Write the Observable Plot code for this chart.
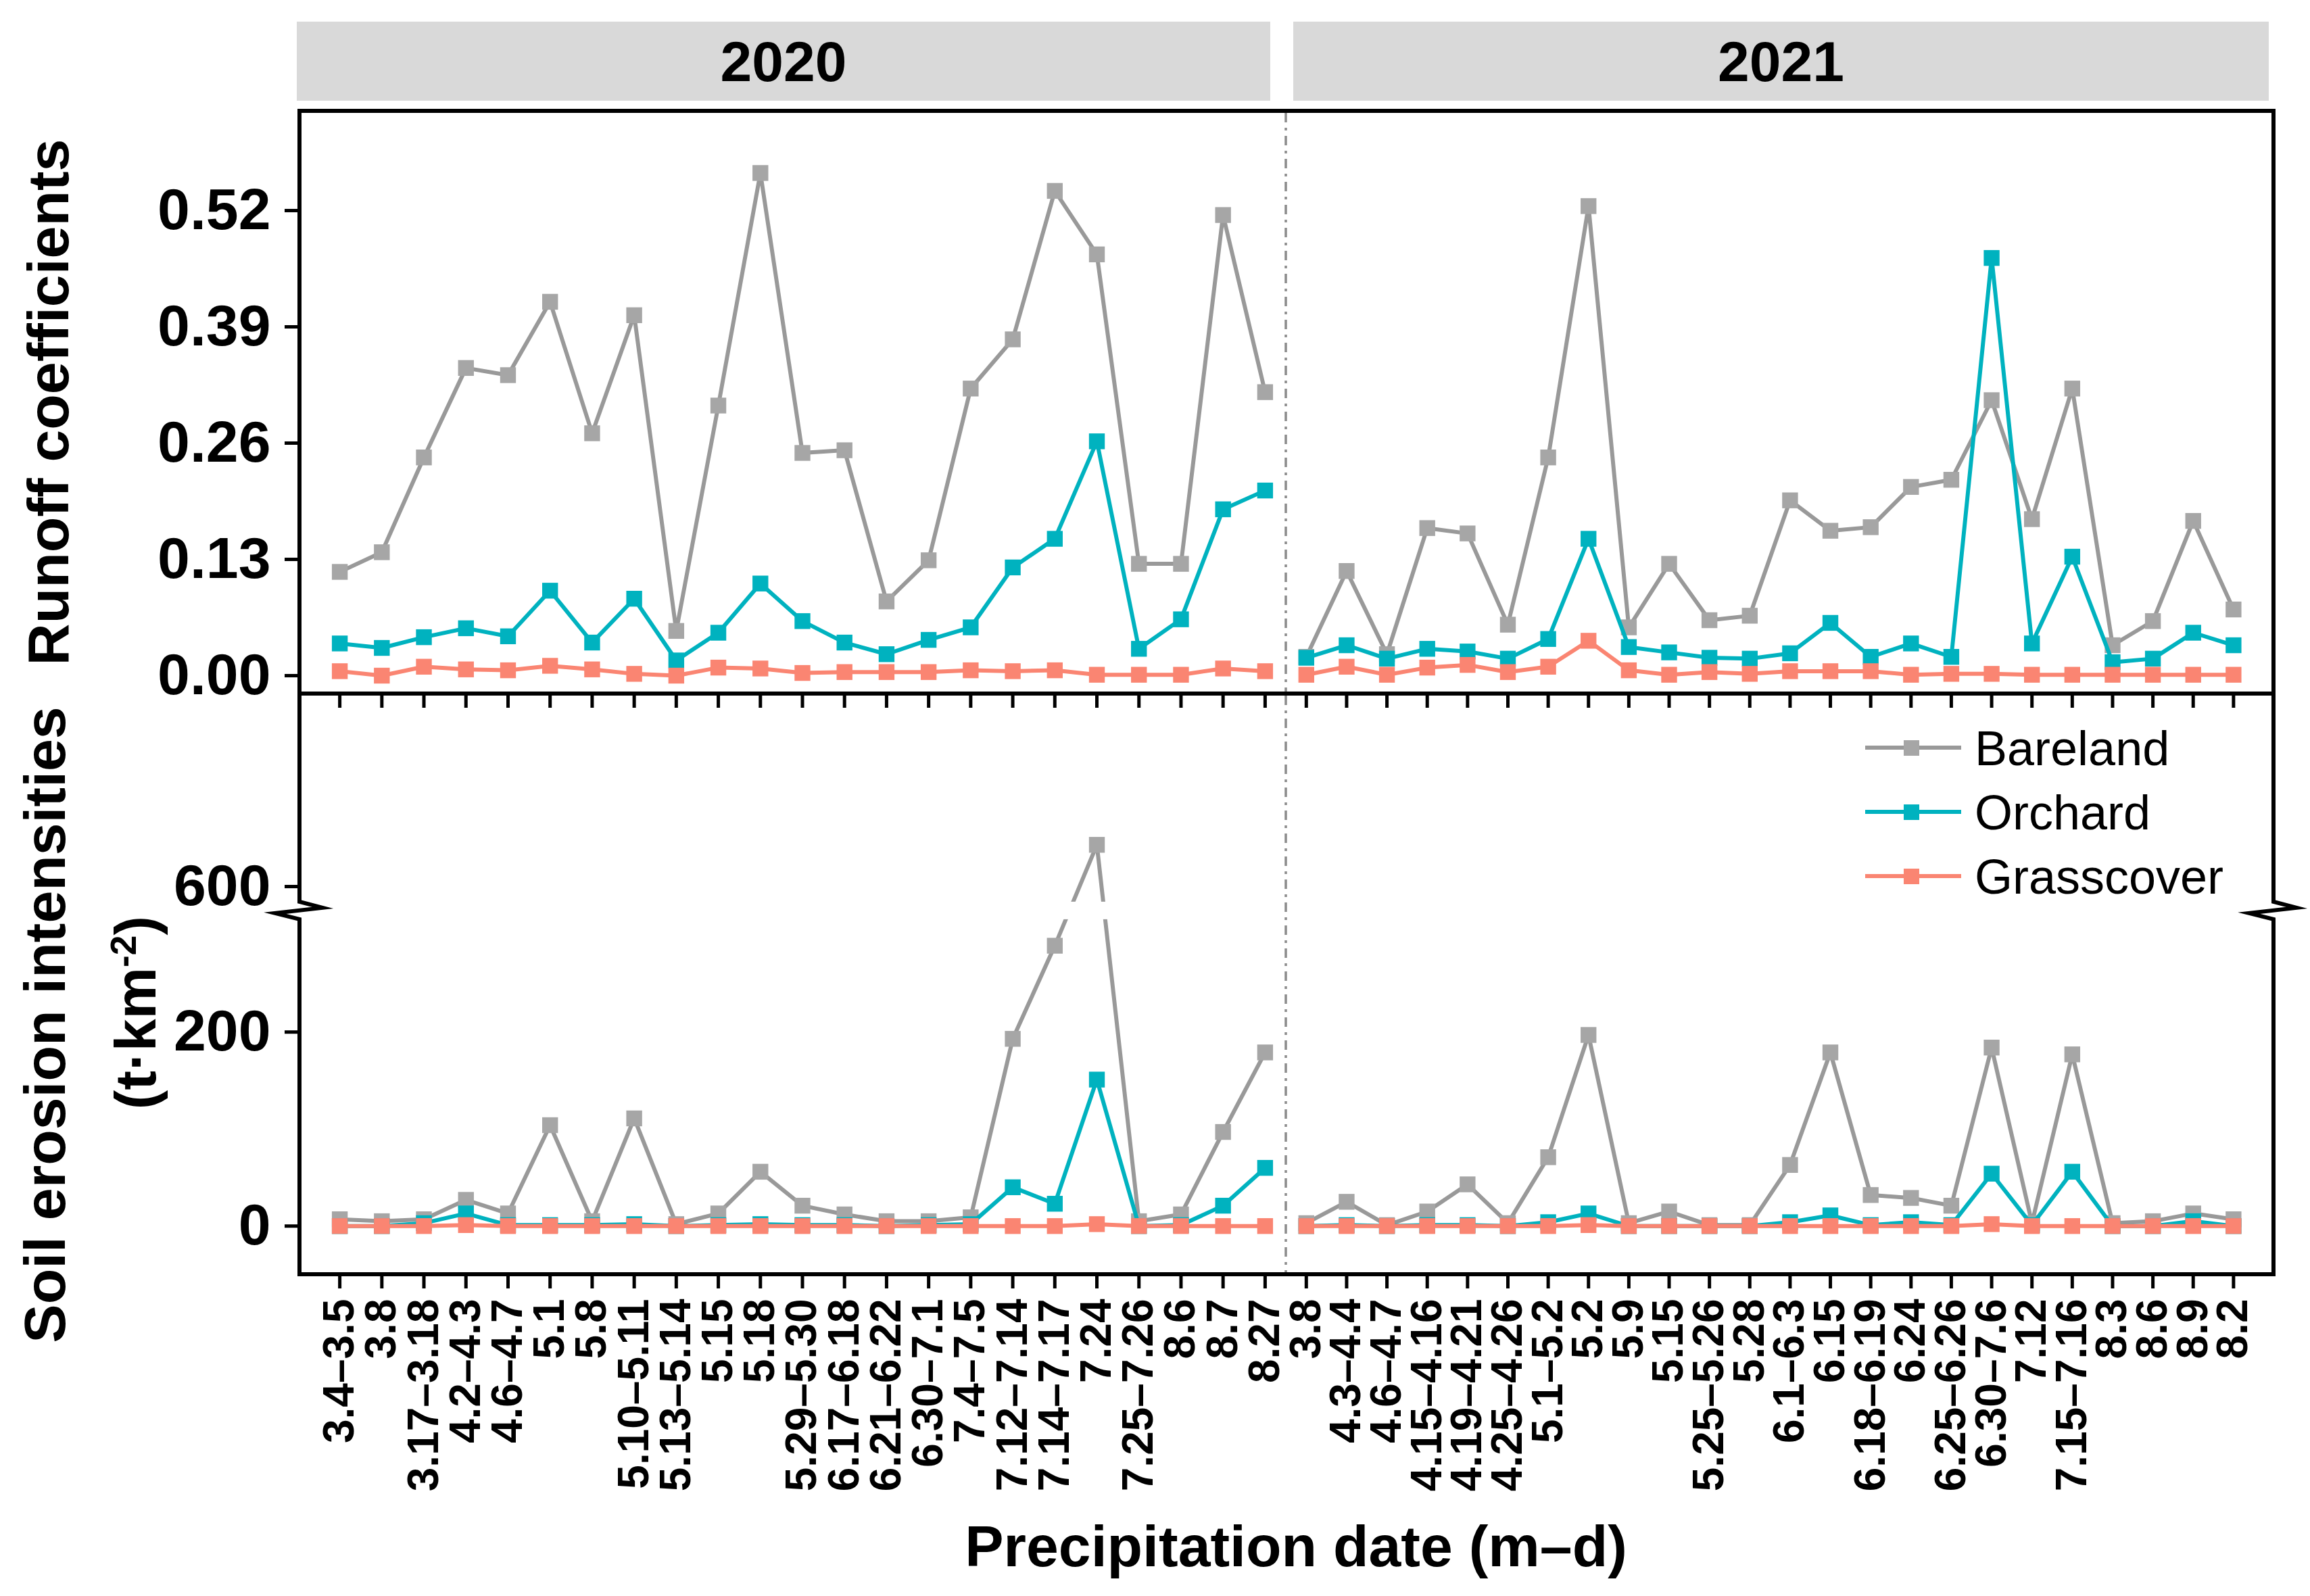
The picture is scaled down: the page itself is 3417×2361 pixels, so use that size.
<!DOCTYPE html>
<html>
<head>
<meta charset="utf-8">
<script src="https://cdn.jsdelivr.net/npm/d3@7"></script>
<script src="https://cdn.jsdelivr.net/npm/@observablehq/plot@0.6"></script>
<style>
html, body { margin: 0; padding: 0; background: #fff; }
#fig { position: relative; width: 3417px; height: 2361px; overflow: hidden; background: #fff;
       font-family: 'Liberation Sans', Arial, Helvetica, sans-serif; color: #000; }
.layer { position: absolute; left: 0; top: 0; }
.strip { position: absolute; background: #d9d9d9; display: flex; align-items: center; justify-content: center;
         font-weight: bold; font-size: 84px; line-height: 1; }
.vt { position: absolute; white-space: nowrap; font-weight: bold; font-size: 86px; line-height: 1;
      transform: translate(-50%, -50%) rotate(-90deg); }
.vt sup { font-size: 62%; vertical-align: 0.55em; line-height: 0; }
.xt { position: absolute; white-space: nowrap; font-weight: bold; font-size: 86px; line-height: 1; transform: translateX(-50%); }
.lg { position: absolute; white-space: nowrap; font-size: 72px; line-height: 1; }
</style>
</head>
<body>
<div id="fig"></div>
<script>
// ---------------- data ----------------
const years = ["2020", "2021"];
const seriesNames = ["Bareland", "Orchard", "Grasscover"];

const dates2020 = ["3.4–3.5","3.8","3.17–3.18","4.2–4.3","4.6–4.7","5.1","5.8","5.10–5.11","5.13–5.14","5.15","5.18","5.29–5.30","6.17–6.18","6.21–6.22","6.30–7.1","7.4–7.5","7.12–7.14","7.14–7.17","7.24","7.25–7.26","8.6","8.7","8.27"];
const dates2021 = ["3.8","4.3–4.4","4.6–4.7","4.15–4.16","4.19–4.21","4.25–4.26","5.1–5.2","5.2","5.9","5.15","5.25–5.26","5.28","6.1–6.3","6.15","6.18–6.19","6.24","6.25–6.26","6.30–7.6","7.12","7.15–7.16","8.3","8.6","8.9","8.2"];

// Runoff coefficients
const runoffBare2020  = [0.116,0.138,0.244,0.344,0.336,0.418,0.271,0.403,0.050,0.302,0.562,0.249,0.252,0.083,0.129,0.321,0.376,0.542,0.471,0.125,0.125,0.515,0.317];
const runoffOrch2020  = [0.036,0.031,0.043,0.053,0.044,0.095,0.037,0.086,0.017,0.048,0.103,0.061,0.037,0.024,0.040,0.054,0.121,0.153,0.262,0.030,0.063,0.186,0.207];
const runoffGrass2020 = [0.005,0.000,0.010,0.007,0.006,0.011,0.007,0.002,0.000,0.009,0.008,0.003,0.004,0.004,0.004,0.006,0.005,0.006,0.001,0.001,0.001,0.008,0.005];
const runoffBare2021  = [0.021,0.117,0.024,0.165,0.159,0.057,0.244,0.525,0.054,0.125,0.062,0.067,0.196,0.162,0.166,0.211,0.219,0.308,0.175,0.321,0.034,0.061,0.173,0.074];
const runoffOrch2021  = [0.020,0.034,0.019,0.030,0.027,0.019,0.041,0.153,0.032,0.026,0.020,0.019,0.025,0.059,0.021,0.036,0.021,0.467,0.036,0.133,0.015,0.019,0.048,0.034];
const runoffGrass2021 = [0.001,0.010,0.001,0.009,0.012,0.004,0.010,0.039,0.006,0.001,0.004,0.002,0.005,0.005,0.005,0.001,0.002,0.002,0.001,0.001,0.001,0.001,0.001,0.001];

// Soil erosion intensities (t·km-2)
const erosionBare2020  = [7,5,7,27,13,104,5,111,2,13,56,21,12,5,5,9,193,289,643,5,12,97,179];
const erosionOrch2020  = [0,0,3,13,1,1,1,2,0,1,2,1,1,0,1,2,40,23,151,0,1,21,60];
const erosionGrass2020 = [0,0,0,1,0,0,0,0,0,0,0,0,0,0,0,0,0,0,2,0,0,0,0];
const erosionBare2021  = [3,25,1,15,43,3,71,197,3,15,1,1,63,179,32,29,21,184,3,177,3,5,13,7];
const erosionOrch2021  = [0,1,0,1,1,0,4,13,0,0,0,0,4,11,1,4,1,54,1,56,0,0,5,0];
const erosionGrass2021 = [0,0,0,0,0,0,0,1,0,0,0,0,0,0,0,0,0,2,0,0,0,0,0,0];

const runoffTicks = [0, 0.13, 0.26, 0.39, 0.52];
const erosionTicks = [0, 200, 600];
// y-axis break of the erosion panel
const breakLow = 325, breakHigh = 575;

// ---------------- styling ----------------
const lineColors = ["#999999", "#00B2BF", "#FA8572"];
const markerColors = ["#A6A6A6", "#00B2BF", "#FA8572"];
const lineWidth = 6;
const markerR = 13.2;

const W = 3417, H = 2361;
const colEdges = [[443, 1902], [1902, 3363]];
const rowEdges = {runoff: [164, 1026], erosion: [1026, 1885]};
const xDomains = [[-0.95, 22.5], [-0.5, 24.0]];
const yDomains = {runoff: [-0.0204, 0.6311], erosion: [-50, 548.6]};

const labelsByYear = [dates2020, dates2021];
const dataByYear = [
  {runoff: [runoffBare2020, runoffOrch2020, runoffGrass2020], erosion: [erosionBare2020, erosionOrch2020, erosionGrass2020]},
  {runoff: [runoffBare2021, runoffOrch2021, runoffGrass2021], erosion: [erosionBare2021, erosionOrch2021, erosionGrass2021]}
];

const gap = breakHigh - breakLow;
const brk = v => (v > breakLow ? v - gap : v);
const erosionTickMap = new Map(erosionTicks.map(v => [brk(v), v]));

function frameMark(isLeft, isBottom) {
  return (index, scales, values, dims) => {
    const {width, height, marginTop, marginRight, marginBottom, marginLeft} = dims;
    const x0 = marginLeft, x1 = width - marginRight, y0 = marginTop, y1 = height - marginBottom;
    const bw = 6;
    const g = d3.create("svg:g").attr("fill", "none");
    let yb = null;
    if (isBottom) {
      yb = scales.y(breakLow);
      g.append("rect").attr("x", x0 + bw / 2).attr("width", x1 - x0 - bw)
        .attr("y", yb - 13).attr("height", 26).attr("fill", "white");
    }
    const hx0 = isLeft ? x0 - bw / 2 : x0, hx1 = isLeft ? x1 : x1 + bw / 2;
    for (const yy of [y0, y1]) {
      g.append("line").attr("x1", hx0).attr("x2", hx1).attr("y1", yy).attr("y2", yy)
        .attr("stroke", "black").attr("stroke-width", bw);
    }
    const sx = isLeft ? x0 : x1;
    if (isBottom) {
      g.append("path")
        .attr("d", `M${sx},${y0}V${yb - 13}L${sx + 34},${yb - 4}L${sx - 36},${yb + 4}L${sx},${yb + 13}V${y1}`)
        .attr("stroke", "black").attr("stroke-width", bw).attr("stroke-linejoin", "miter").attr("stroke-miterlimit", 10);
    } else {
      g.append("line").attr("x1", sx).attr("x2", sx).attr("y1", y0 - bw / 2).attr("y2", y1)
        .attr("stroke", "black").attr("stroke-width", bw);
    }
    if (isLeft) {
      g.append("line").attr("x1", x1).attr("x2", x1).attr("y1", y0 + bw / 2).attr("y2", y1 - bw / 2)
        .attr("stroke", "#8c8c8c").attr("stroke-width", 3.5).attr("stroke-dasharray", "14,8,4,8");
    }
    return g.node();
  };
}

function makePanel(yi, metric) {
  const isLeft = yi === 0, isBottom = metric === "erosion";
  const labels = labelsByYear[yi];
  const f = isBottom ? brk : (v => v);
  const [left, right] = colEdges[yi];
  const [top, bottom] = rowEdges[metric];
  const marks = [];
  dataByYear[yi][metric].forEach((arr, s) => {
    const rows = arr.map((v, i) => ({i, v}));
    marks.push(Plot.line(rows, {x: "i", y: d => f(d.v), stroke: lineColors[s], strokeWidth: lineWidth}));
    marks.push(Plot.dot(rows, {x: "i", y: d => f(d.v), symbol: "square", r: markerR, fill: markerColors[s], stroke: "none"}));
  });
  marks.push(frameMark(isLeft, isBottom));
  const idx = labels.map((_, i) => i);
  marks.push(Plot.axisX({
    ticks: idx, tickFormat: isBottom ? (i => labels[i]) : (() => ""),
    tickSize: 21, tickPadding: 15, tickRotate: -90, textAnchor: "end",
    fontSize: 64, strokeWidth: 5, label: null, color: "black"
  }));
  if (isLeft) {
    marks.push(Plot.axisY(isBottom ? {
      ticks: erosionTicks.map(brk), tickFormat: t => String(erosionTickMap.get(t)),
      tickSize: 22, tickPadding: 21, fontSize: 86, strokeWidth: 5, label: null, color: "black"
    } : {
      ticks: runoffTicks, tickFormat: d3.format(".2f"),
      tickSize: 22, tickPadding: 21, fontSize: 86, strokeWidth: 5, label: null, color: "black"
    }));
  }
  const svg = Plot.plot({
    width: W, height: H,
    marginLeft: left, marginRight: W - right, marginTop: top, marginBottom: H - bottom,
    x: {type: "linear", domain: xDomains[yi], axis: null},
    y: {type: "linear", domain: yDomains[metric], axis: null},
    style: {background: "transparent", overflow: "visible", maxWidth: "none",
            fontFamily: "'Liberation Sans', Arial, Helvetica, sans-serif", fontWeight: "bold", fontSize: "64px", color: "black"},
    marks
  });
  svg.classList.add("layer");
  return svg;
}

const fig = document.getElementById("fig");

// strips
const stripBoxes = [[439, 1879], [1913, 3356]];
years.forEach((yr, i) => {
  const d = document.createElement("div");
  d.className = "strip";
  d.style.left = stripBoxes[i][0] + "px";
  d.style.width = (stripBoxes[i][1] - stripBoxes[i][0]) + "px";
  d.style.top = "32px";
  d.style.height = "117px";
  d.textContent = yr;
  fig.appendChild(d);
});

// panels
for (const metric of ["runoff", "erosion"]) {
  for (let yi = 0; yi < 2; yi++) fig.appendChild(makePanel(yi, metric));
}

// axis titles
function addVT(html, cx, cy) {
  const d = document.createElement("div");
  d.className = "vt";
  d.style.left = cx + "px";
  d.style.top = cy + "px";
  d.innerHTML = html;
  fig.appendChild(d);
}
addVT("Runoff coefficients", 71, 595);
addVT("Soil erosion intensities", 66, 1516);
addVT("(t·km<sup>-2</sup>)", 200, 1498);

const xt = document.createElement("div");
xt.className = "xt";
xt.style.left = "1917px";
xt.style.top = "2244px";
xt.textContent = "Precipitation date (m–d)";
fig.appendChild(xt);

// legend
const legendY = [1106, 1201, 1296];
seriesNames.forEach((name, s) => {
  const yc = legendY[s];
  const ln = document.createElement("div");
  ln.style.cssText = `position:absolute;left:2759px;width:142px;top:${yc - lineWidth / 2}px;height:${lineWidth}px;background:${lineColors[s]};`;
  fig.appendChild(ln);
  const sq = document.createElement("div");
  sq.style.cssText = `position:absolute;left:${2827 - 11.5}px;width:23px;top:${yc - 11.5}px;height:23px;background:${markerColors[s]};`;
  fig.appendChild(sq);
  const t = document.createElement("div");
  t.className = "lg";
  t.style.left = "2921px";
  t.style.top = (yc - 35) + "px";
  t.textContent = name;
  fig.appendChild(t);
});
</script>
</body>
</html>
